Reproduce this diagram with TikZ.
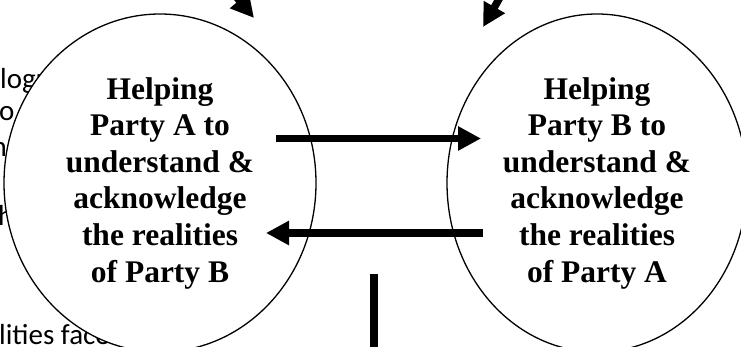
\documentclass[tikz,border=0pt]{standalone}
\usepackage{fontspec}
\setmainfont{Liberation Serif}
\newfontfamily\calfont{Carlito}
\usetikzlibrary{shapes.geometric,arrows.meta}
\begin{document}
\begin{tikzpicture}[x=1pt,y=-1pt,
  party/.style={ellipse,draw,line width=1.3pt,fill=white,inner sep=0pt,align=center,
    font=\fontsize{31.5}{36.6}\selectfont\bfseries},
  frag/.style={inner sep=0pt,font=\calfont\fontsize{29}{33}\selectfont},
  fat/.style={line width=7.5pt,-{Triangle[length=23pt,width=23pt]}},
  bar/.style={line width=8pt}
]
\useasboundingbox (0,0) rectangle (741,347);
% partly hidden text behind the circles
\node[frag,anchor=base west] (f1) at (0,89) {logu};
\node[frag,anchor=base west] (f2) at (-1,121) {o};
\node[frag,anchor=base east] (f3) at (7,157) {n};
\node[frag,anchor=base west] (f4) at (-2,226) {h};
\node[frag,anchor=base west] (f5) at (-1,344) {lities face};
% circles
\node[party,minimum width=312pt,minimum height=338pt] (A) at (160,183)
  {Helping\\Party A to\\understand \&\\acknowledge\\the realities\\of Party B};
\node[party,minimum width=300pt,minimum height=338pt] (B) at (597,183)
  {Helping\\Party B to\\understand \&\\acknowledge\\the realities\\of Party A};
% horizontal arrows
\coordinate (t1) at (276,138.5);
\coordinate (t2) at (481,138.5);
\coordinate (b1) at (483,233);
\coordinate (b2) at (266,233);
\draw[fat] (t1) -- (t2);
\draw[fat] (b1) -- (b2);
% top arrows entering from above
\coordinate (ls) at (208,-37);
\coordinate (le) at (254,18);
\coordinate (rs) at (518,-34);
\coordinate (re) at (483,27);
\draw[fat] (ls) -- (le);
\draw[fat] (rs) -- (re);
% vertical bar at bottom
\coordinate (v1) at (374,274);
\coordinate (v2) at (374,352);
\draw[bar] (v1) -- (v2);
\end{tikzpicture}
\end{document}
